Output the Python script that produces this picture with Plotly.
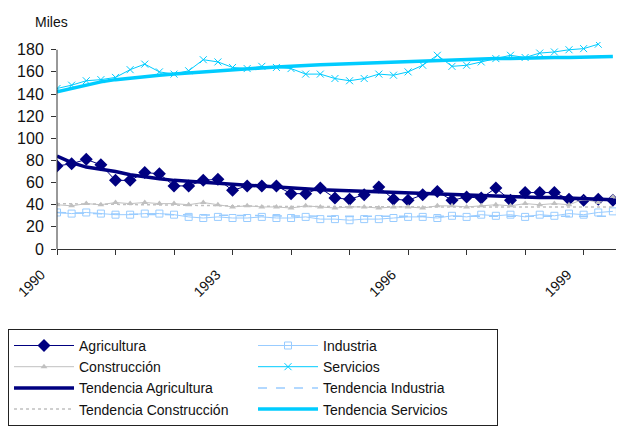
import plotly.graph_objects as go

# ---- data (quarterly, starting 1990 Q1), thousands ----
start_year = 1990
tick_years = [1990, 1993, 1996, 1999]
tick_labels = ["1990", "1993", "1996", "1999"]
y_ticks = [0, 20, 40, 60, 80, 100, 120, 140, 160, 180]

agricultura = [75, 77, 81, 76, 62, 62, 69, 68, 57, 57, 62, 63, 53, 57, 57, 57, 50, 50, 55,
               46, 45, 49, 56, 45, 44, 49, 52, 44, 47, 46, 55, 44, 51, 51, 51, 45, 44, 45, 44]
industria = [33, 32, 33, 32, 31, 31, 32, 32, 31, 29, 28, 29, 28, 28, 29, 28, 28, 29, 27,
             27, 26, 27, 27, 28, 29, 29, 28, 30, 29, 31, 30, 31, 29, 31, 30, 32, 31, 33, 34]
construccion = [40, 39, 41, 40, 42, 41, 42, 41, 41, 40, 42, 40, 38, 39, 38, 38, 37, 39, 38,
                37, 38, 38, 37, 38, 38, 37, 39, 39, 38, 39, 40, 39, 41, 40, 41, 40, 45, 42, 47]
servicios = [145, 148, 152, 153, 155, 162, 167, 160, 158, 161, 171, 169, 164, 163, 165, 164,
             163, 158, 158, 154, 152, 154, 158, 157, 160, 166, 175, 165, 166, 169, 172, 175,
             173, 177, 178, 180, 181, 185]

tend_agricultura = [84, 78, 74, 72, 70, 67, 65, 63.5, 62, 61, 60, 59, 58, 57.5, 57, 56, 55, 54,
                    53.5, 53, 52.5, 52, 51.5, 51, 51, 50.5, 50, 49.5, 49, 48.5, 48, 47.5, 47,
                    46.5, 46.5, 46, 45.5, 45, 44.5]
tend_industria = [33, 32.5, 32, 31.8, 31.6, 31.4, 31.2, 31, 30.8, 30.6, 30.4, 30.3, 30.2, 30.1,
                  30, 29.9, 29.8, 29.7, 29.7, 29.6, 29.6, 29.5, 29.5, 29.5, 29.5, 29.5, 29.5,
                  29.5, 29.5, 29.5, 29.5, 29.5, 29.5, 29.5, 29.5, 29.5, 29.5, 29.5, 29.5]
tend_construccion = [41, 40.8, 40.6, 40.4, 40.2, 40, 39.8, 39.6, 39.4, 39.2, 39, 38.9, 38.8,
                     38.7, 38.6, 38.5, 38.4, 38.3, 38.2, 38.2, 38.1, 38.1, 38, 38, 38, 38, 38,
                     38, 38, 38, 38, 38, 38, 38, 38, 38, 38, 38, 38]
tend_servicios = [142, 145, 148, 151, 153, 154.5, 156, 157, 158, 159, 160, 161, 162, 163, 164,
                  164.5, 165, 166, 166.5, 167, 167.5, 168, 168.5, 169, 169.5, 170, 170.5, 171,
                  171, 171.5, 172, 172, 172.5, 172.5, 173, 173, 173.5, 173.5, 174]


def quarters(values):
    return [start_year + i * 0.25 for i in range(len(values))]


NAVY = "#000080"
LBLUE = "#99ccff"
GRAY = "#c0c0c0"
CYAN = "#00ccff"
FONT = "Arial, Liberation Sans, sans-serif"

fig = go.Figure()
fig.add_trace(go.Scatter(x=quarters(agricultura), y=agricultura, name="Agricultura",
                         mode="lines+markers", line=dict(color=NAVY, width=1),
                         marker=dict(symbol="diamond", size=10, color=NAVY)))
fig.add_trace(go.Scatter(x=quarters(industria), y=industria, name="Industria",
                         mode="lines+markers", line=dict(color=LBLUE, width=1),
                         marker=dict(symbol="square-open", size=7, color=LBLUE)))
fig.add_trace(go.Scatter(x=quarters(construccion), y=construccion, name="Construcción",
                         mode="lines+markers", line=dict(color=GRAY, width=1),
                         marker=dict(symbol="triangle-up", size=6, color=GRAY)))
fig.add_trace(go.Scatter(x=quarters(servicios), y=servicios, name="Servicios",
                         mode="lines+markers", line=dict(color=CYAN, width=1),
                         marker=dict(symbol="x-thin-open", size=7, color=CYAN,
                                     line=dict(color=CYAN, width=1))))
fig.add_trace(go.Scatter(x=quarters(tend_agricultura), y=tend_agricultura,
                         name="Tendencia Agricultura", mode="lines",
                         line=dict(color=NAVY, width=3.5)))
fig.add_trace(go.Scatter(x=quarters(tend_industria), y=tend_industria,
                         name="Tendencia Industria", mode="lines",
                         line=dict(color=LBLUE, width=1.5, dash="dash")))
fig.add_trace(go.Scatter(x=quarters(tend_construccion), y=tend_construccion,
                         name="Tendencia Construcción", mode="lines",
                         line=dict(color=GRAY, width=1.5, dash="dot")))
fig.add_trace(go.Scatter(x=quarters(tend_servicios), y=tend_servicios,
                         name="Tendencia Servicios", mode="lines",
                         line=dict(color=CYAN, width=3.5)))

AXIS = "#333333"
fig.update_layout(
    width=616, height=420,
    margin=dict(l=49, r=0, t=34, b=179),
    paper_bgcolor="white", plot_bgcolor="white",
    font=dict(family=FONT, size=14, color="#111111"),
    xaxis=dict(range=[1990, 1999.69], tickvals=tick_years, ticktext=tick_labels,
               tickangle=-45, ticks="outside", ticklen=5, tickcolor=AXIS,
               showline=True, linecolor=AXIS, linewidth=1, showgrid=False, zeroline=False,
               tickfont=dict(size=14), ticklabelshift=-16, ticklabelstandoff=6,
               minor=dict(dtick=1, tick0=1990, ticks="outside", ticklen=5, tickcolor=AXIS,
                          showgrid=False)),
    yaxis=dict(range=[0, 187], tickvals=y_ticks, ticks="outside", ticklen=5, tickcolor=AXIS,
               showline=False, showgrid=False, zeroline=False, tickfont=dict(size=16),
               ticklabelstandoff=4),
    showlegend=True,
    legend=dict(orientation="h", x=-0.0864, xanchor="left", y=-0.386, yanchor="top",
                entrywidth=169, entrywidthmode="pixels", bordercolor="#222222",
                borderwidth=1, bgcolor="white", font=dict(size=14),
                itemwidth=60, tracegroupgap=0),
    shapes=[dict(type="line", xref="paper", yref="y", x0=0, x1=0, y0=0, y1=180,
                 line=dict(color=AXIS, width=1))],
    annotations=[dict(text="Miles", xref="paper", yref="paper", x=-0.01, y=1.097,
                      xanchor="center", yanchor="middle", showarrow=False,
                      font=dict(size=14))],
)

fig.write_html("out.html")
